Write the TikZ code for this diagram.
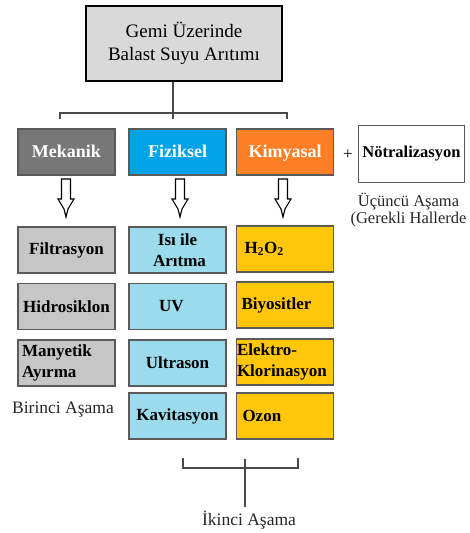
\documentclass[tikz,border=0pt]{standalone}
\usepackage{fontspec}
\setmainfont{Liberation Serif}
\definecolor{topfill}{HTML}{D9D9D9}
\definecolor{mekfill}{HTML}{777777}
\definecolor{fizfill}{HTML}{00A2E8}
\definecolor{kimfill}{HTML}{FF7F27}
\definecolor{grayrow}{HTML}{C6C6C6}
\definecolor{bluerow}{HTML}{9CDBEC}
\definecolor{goldrow}{HTML}{FFC60A}
\definecolor{edge}{HTML}{5A5A5A}
\definecolor{conn}{HTML}{4A4A4A}
\begin{document}
\begin{tikzpicture}[x=1pt,y=-1pt,
  catbox/.style={draw=edge, line width=1.2pt, minimum width=97pt, minimum height=46pt,
    inner sep=0pt, text=white, text height=11pt, text depth=1pt,
    font=\bfseries\fontsize{18}{21}\selectfont},
  rowbox/.style={draw=edge, line width=1.2pt, minimum width=97pt, minimum height=46pt,
    inner sep=0pt, font=\bfseries\fontsize{17}{21}\selectfont},
  leftbox/.style={rowbox, text width=93pt, inner xsep=2pt, align=left},
  midbox/.style={rowbox, align=center},
  label/.style={font=\fontsize{17.5}{17.5}\selectfont, inner sep=0pt, text=black!85},
  connector/.style={draw=conn, line width=1.4pt},
  hollow/.style={draw=black, line width=1.1pt, fill=white, line join=miter}
]
\useasboundingbox (0,0) rectangle (469,533);

% top box
\node[draw=black, line width=1.5pt, fill=topfill, minimum width=196pt, minimum height=75pt,
  inner sep=0pt, align=center, font=\fontsize{19}{23}\selectfont] (top) at (184,43.5)
  {Gemi Üzerinde\\Balast Suyu Arıtımı};

% categories
\node[catbox, fill=mekfill] (mek) at (66.5,152) {Mekanik};
\node[catbox, fill=fizfill] (fiz) at (177.5,152) {Fiziksel};
\node[catbox, fill=kimfill] (kim) at (285,152) {Kimyasal};
\node[font=\fontsize{17}{17}\selectfont, inner sep=0pt] (plus) at (348,155) {+};
\node[draw=edge, line width=1.2pt, minimum width=106pt, minimum height=57pt, inner sep=0pt,
  font=\bfseries\fontsize{16.5}{19}\selectfont] (not) at (411.5,154) {Nötralizasyon};
\node[label, font=\fontsize{16.5}{17}\selectfont, align=center, anchor=north] (ucuncu) at (408.5,193)
  {Üçüncü Aşama\\(Gerekli Hallerde};

% top bracket
\coordinate (bL) at (60,113);
\coordinate (bR) at (287,113);
\coordinate (bM) at (173,113);
\draw[connector] (top.south -| bM) -- (173,119);
\draw[connector] (60,119) -- (bL) -- (bR) -- (287,119);

% hollow arrows
\foreach \n/\x in {a1/66, a2/180, a3/283}{
  \draw[hollow] (\x-4.5,179) -- (\x-4.5,199) -- (\x-8,199) -- (\x-2,209) -- (\x,217)
     -- (\x+2,209) -- (\x+8,199) -- (\x+4.5,199) -- (\x+4.5,179) -- cycle;
}

% column 1
\node[midbox, fill=grayrow] (filt) at (66.5,250) {Filtrasyon};
\node[midbox, fill=grayrow] (hidro) at (66.5,306.5) {Hidrosiklon};
\node[leftbox, fill=grayrow, inner xsep=4pt, text width=89pt] (many) at (66.5,363) {Manyetik\\Ayırma};
\node[label, anchor=west] (birinci) at (12,410) {Birinci Aşama};

% column 2
\node[midbox, fill=bluerow] (isi) at (177.5,250) {Isı ile\\\hspace*{4pt}Arıtma};
\node[midbox, fill=bluerow] (uv) at (177.5,306.5) {UV\hspace*{12pt}};
\node[midbox, fill=bluerow] (ultra) at (177.5,363) {Ultrason};
\node[midbox, fill=bluerow] (kavi) at (177.5,416) {Kavitasyon};

% column 3
\node[leftbox, fill=goldrow] (h2o2) at (285,249) {\hspace*{6pt}H\textsubscript{2}O\textsubscript{2}};
\node[leftbox, fill=goldrow] (biyo) at (285,305) {\hspace*{3pt}Biyositler};
\node[leftbox, fill=goldrow, inner xsep=0.5pt, text width=96pt] (elek) at (285,362) {Elektro-\\Klorinasyon};
\node[leftbox, fill=goldrow] (ozon) at (285,416) {\hspace*{4pt}Ozon};

% bottom bracket
\coordinate (cM) at (245,468);
\draw[connector] (183,458) -- (183,468) -- (298,468) -- (298,458);
\draw[connector] (245,459) -- (245,507);
\node[label, anchor=north] (ikinci) at (249,511) {İkinci Aşama};
\end{tikzpicture}
\end{document}
